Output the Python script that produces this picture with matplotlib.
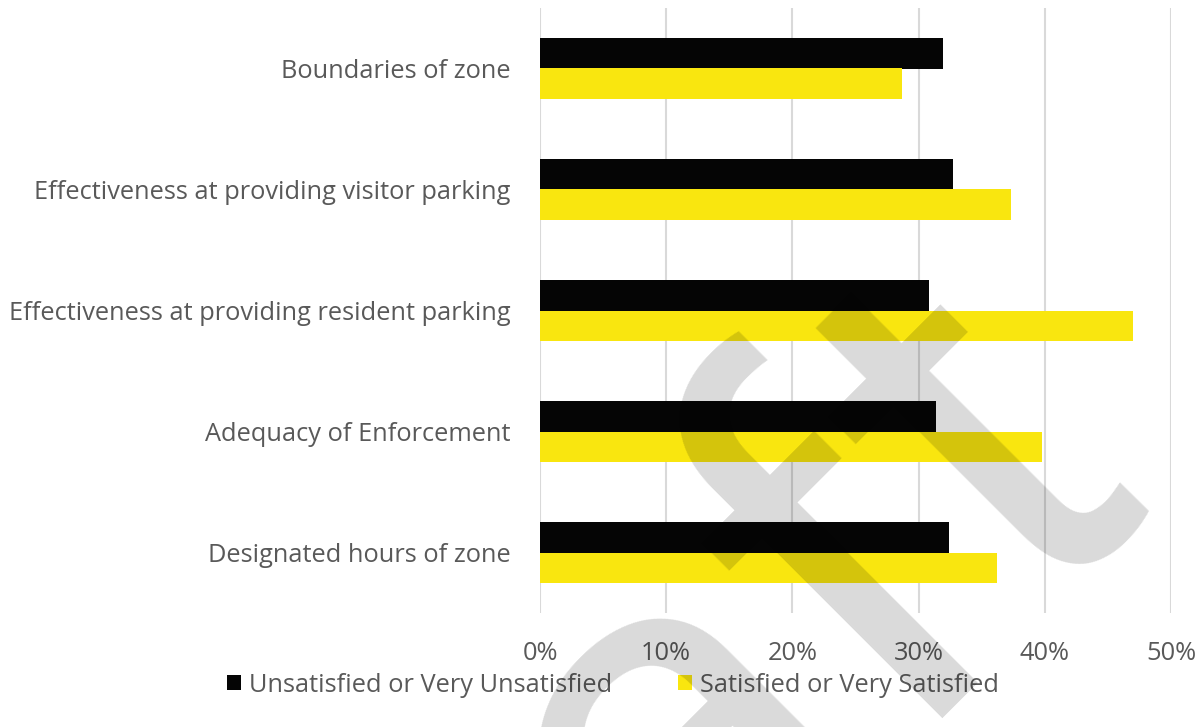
import numpy as np
import matplotlib
matplotlib.use("Agg")
import matplotlib.pyplot as plt

# data
categories = ["Designated hours of zone", "Adequacy of Enforcement",
              "Effectiveness at providing resident parking",
              "Effectiveness at providing visitor parking", "Boundaries of zone"]
unsatisfied = [0.324, 0.314, 0.308, 0.327, 0.319]
satisfied = [0.362, 0.398, 0.470, 0.373, 0.287]
xticks = [0, 0.1, 0.2, 0.3, 0.4, 0.5]

plt.rcParams['font.family'] = ['Open Sans', 'DejaVu Sans']

fig = plt.figure(figsize=(12.04, 7.27), dpi=100)
ax = fig.add_axes([540/1204, 1-613/727, 631/1204, 605/727])

y = np.arange(len(categories))
h = 0.256
ax.barh(y + h/2, unsatisfied, height=h, color="#050505", label="Unsatisfied or Very Unsatisfied", zorder=2)
ax.barh(y - h/2, satisfied, height=h, color="#F9E60F", label="Satisfied or Very Satisfied", zorder=2)

ax.set_xlim(0, 0.5)
ax.set_ylim(-0.5, 4.5)
ax.set_xticks(xticks)
ax.set_xticklabels([f"{int(round(t*100))}%" for t in xticks])
ax.set_yticks(y)
ax.set_yticklabels(categories)
ax.tick_params(length=0, labelsize=18.3, labelcolor="#595959")
ax.tick_params(axis='x', pad=20)
ax.tick_params(axis='y', pad=21)
ax.grid(axis='x', color="#D9D9D9", linewidth=1.5, zorder=0)
for s in ax.spines.values():
    s.set_visible(False)

fig.legend(loc='center', bbox_to_anchor=(0.5 + 11/1204, 1-685/727), ncol=2, frameon=False,
           fontsize=18.3, labelcolor="#595959", handlelength=0.55, handleheight=0.55,
           handletextpad=0.3, columnspacing=2.6)

# watermark
fig.text(1150/1204, 1-465/727, "Draft", fontsize=400, color="black", alpha=0.15,
         family="Roboto", rotation=45, ha='right', va='baseline', rotation_mode='anchor', zorder=10)

fig.savefig("out.png", dpi=100)
